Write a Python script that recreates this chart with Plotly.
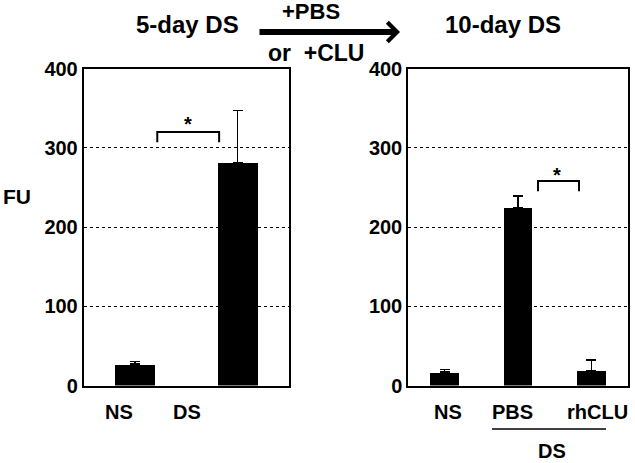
import plotly.graph_objects as go

# ---- data ----
left_categories = ["NS", "DS"]
left_values = [27, 281]
left_errors = [3, 66]

right_categories = ["NS", "PBS", "rhCLU"]
right_values = [17, 224, 19]
right_errors = [3, 15, 13]

y_ticks = [0, 100, 200, 300, 400]

# label positions (category index units) -- layout choices
left_label_pos = [-0.15, 0.51]
right_label_pos = [0.045, 0.93, 2.08]

W, H = 635, 463
def px(x):
    return x / W
def py(y):
    return 1 - y / H

FONT = "Arial, Liberation Sans, sans-serif"
BAR_W = 0.39

fig = go.Figure()
fig.add_trace(go.Bar(
    x=left_categories, y=left_values, xaxis="x", yaxis="y",
    marker=dict(color="black", line=dict(width=0)), width=BAR_W,
    error_y=dict(type="data", array=left_errors, arrayminus=[0] * len(left_errors),
                 symmetric=False, color="black", thickness=1.5, width=5),
    showlegend=False, hoverinfo="skip"))
fig.add_trace(go.Bar(
    x=right_categories, y=right_values, xaxis="x2", yaxis="y2",
    marker=dict(color="black", line=dict(width=0)), width=BAR_W,
    error_y=dict(type="data", array=right_errors, arrayminus=[0] * len(right_errors),
                 symmetric=False, color="black", thickness=1.5, width=5),
    showlegend=False, hoverinfo="skip"))

ydom = [py(385.5), py(68.5)]
common_x = dict(showline=True, mirror=True, linecolor="black", linewidth=1.5,
                showticklabels=False, ticks="", showgrid=False, zeroline=False,
                type="category", automargin=False)
common_y = dict(range=[0, 400], tickvals=y_ticks, showline=True, mirror=True,
                linecolor="black", linewidth=1.5, showgrid=True, gridcolor="black",
                griddash="dot", gridwidth=1, zeroline=False, ticks="",
                tickfont=dict(size=20, family=FONT, color="black", weight="bold"),
                domain=ydom, automargin=False)

fig.update_layout(
    width=W, height=H, margin=dict(l=0, r=0, t=0, b=0, pad=0), autosize=False,
    paper_bgcolor="white", plot_bgcolor="white",
    font=dict(family=FONT, color="black", weight="bold"),
    bargap=0,
    xaxis=dict(domain=[px(83.5), px(289)], range=[-0.5, 1.5], anchor="y", **common_x),
    yaxis=dict(anchor="x", **common_y),
    xaxis2=dict(domain=[px(408), px(628)], range=[-0.5, 2.5], anchor="y2", **common_x),
    yaxis2=dict(anchor="x2", **common_y),
)

ann = []
tf = dict(family=FONT, color="black", weight="bold")
def A(text, x, y, xref="paper", yref="paper", size=20):
    return dict(text=text, x=x, y=y, xref=xref, yref=yref, showarrow=False,
                xanchor="center", yanchor="middle", font=dict(size=size, **tf))

# x labels
for lab, pos in zip(left_categories, left_label_pos):
    ann.append(A(lab, pos, py(412), xref="x"))
for lab, pos in zip(right_categories, right_label_pos):
    ann.append(A(lab, pos, py(412), xref="x2"))
ann.append(A("DS", 1.46, py(451), xref="x2"))
# FU
ann.append(A("FU", px(17), py(197), size=21))
# titles
ann.append(A("5-day DS", px(187), py(25), size=24))
ann.append(A("10-day DS", px(503), py(25), size=24))
ann.append(A("+PBS", px(311), py(11), size=22))
ann.append(A("or  +CLU", px(316), py(53), size=23))
# arrow
ann.append(dict(text="", x=px(400), y=py(32), xref="paper", yref="paper",
                ax=-142, ay=0, showarrow=True, arrowhead=4, arrowsize=0.62,
                arrowwidth=6, arrowcolor="black"))
# stars
ann.append(A("*", 0.52, 330, xref="x", yref="y", size=20))
ann.append(A("*", 1.53, 266, xref="x2", yref="y2", size=20))
fig.update_layout(annotations=ann)

shapes = []
# significance brackets
shapes.append(dict(type="path", xref="x", yref="y",
                   path="M 0.218,307 L 0.218,320 L 0.82,320 L 0.82,307",
                   line=dict(color="black", width=2)))
shapes.append(dict(type="path", xref="x2", yref="y2",
                   path="M 1.273,245 L 1.273,258 L 1.832,258 L 1.832,245",
                   line=dict(color="black", width=2)))
# DS underline
shapes.append(dict(type="line", xref="x2", yref="paper", x0=0.645, x1=2.2,
                   y0=py(429), y1=py(429), line=dict(color="black", width=1.5)))
fig.update_layout(shapes=shapes)

fig.write_html("out.html", config={"displayModeBar": False},
               post_script="document.body.style.margin='0';")
